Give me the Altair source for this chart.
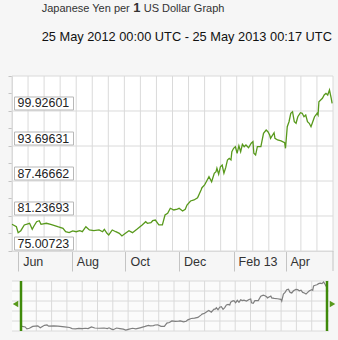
import altair as alt
import pandas as pd

# ---------------- data ----------------
dates = [
    "2012-05-25", "2012-05-30", "2012-06-01", "2012-06-04", "2012-06-08", "2012-06-14",
    "2012-06-17", "2012-06-19", "2012-06-22", "2012-06-25", "2012-06-27", "2012-07-03",
    "2012-07-08", "2012-07-16", "2012-07-22", "2012-07-25", "2012-07-29", "2012-08-02",
    "2012-08-06", "2012-08-10", "2012-08-13", "2012-08-17", "2012-08-21", "2012-08-26",
    "2012-09-01", "2012-09-05", "2012-09-07", "2012-09-10", "2012-09-12", "2012-09-16",
    "2012-09-20", "2012-09-24", "2012-09-27", "2012-10-01", "2012-10-05", "2012-10-09",
    "2012-10-14", "2012-10-20", "2012-10-24", "2012-10-26", "2012-10-30", "2012-11-01",
    "2012-11-04", "2012-11-08", "2012-11-12", "2012-11-15", "2012-11-18", "2012-11-21",
    "2012-11-25", "2012-11-29", "2012-12-01", "2012-12-05", "2012-12-08", "2012-12-10",
    "2012-12-14", "2012-12-18", "2012-12-22", "2012-12-26", "2012-12-27", "2012-12-30",
    "2013-01-02", "2013-01-04", "2013-01-07", "2013-01-10", "2013-01-12", "2013-01-13",
    "2013-01-15", "2013-01-17", "2013-01-19", "2013-01-21", "2013-01-23", "2013-01-25",
    "2013-01-27", "2013-01-29", "2013-01-30", "2013-02-01", "2013-02-03", "2013-02-05",
    "2013-02-07", "2013-02-09", "2013-02-11", "2013-02-13", "2013-02-15", "2013-02-18",
    "2013-02-21", "2013-02-23", "2013-02-24", "2013-02-26", "2013-02-28", "2013-03-04",
    "2013-03-07", "2013-03-10", "2013-03-12", "2013-03-14", "2013-03-15", "2013-03-19",
    "2013-03-20", "2013-03-23", "2013-03-27", "2013-03-31", "2013-04-01", "2013-04-03",
    "2013-04-05", "2013-04-07", "2013-04-09", "2013-04-11", "2013-04-13", "2013-04-15",
    "2013-04-18", "2013-04-20", "2013-04-22", "2013-04-24", "2013-04-26", "2013-04-28",
    "2013-04-30", "2013-05-02", "2013-05-04", "2013-05-07", "2013-05-08", "2013-05-09",
    "2013-05-11", "2013-05-13", "2013-05-15", "2013-05-17", "2013-05-19", "2013-05-21",
    "2013-05-23", "2013-05-24",
]
rates = [
    79.76, 79.33, 78.27, 78.62, 79.64, 79.94,
    78.87, 79.46, 80.22, 80.40, 79.76, 79.94,
    79.76, 79.33, 79.05, 78.44, 78.27, 78.57,
    78.44, 78.62, 78.44, 79.33, 78.75, 78.62,
    78.75, 78.44, 78.87, 78.16, 77.86, 78.75,
    78.44, 78.16, 77.68, 78.16, 78.62, 78.27,
    78.87, 79.64, 80.22, 79.94, 80.04, 80.40,
    80.52, 79.64, 79.64, 81.42, 81.72, 82.61,
    82.31, 82.48, 82.61, 82.13, 82.43, 83.19,
    83.91, 84.09, 84.49, 85.86, 86.27, 86.76,
    87.64, 88.23, 87.34, 88.84, 89.12, 89.73,
    88.66, 90.01, 90.31, 88.84, 89.84, 91.21,
    91.51, 91.21, 92.68, 93.29, 93.57, 92.40,
    93.75, 92.68, 94.00, 93.57, 93.88, 93.39,
    94.18, 94.46, 92.40, 92.09, 93.57, 93.57,
    95.96, 96.54, 96.24, 95.65, 95.07, 96.06,
    95.07, 94.77, 94.59, 94.28, 93.29, 97.13,
    98.02, 99.52, 99.80, 98.02, 97.74, 98.91,
    99.62, 99.52, 98.91, 99.21, 98.02, 97.74,
    97.13, 98.02, 98.91, 99.52, 99.21, 101.58,
    101.88, 102.19, 102.77, 103.07, 102.77, 103.66,
    102.19, 101.29,
]

y_label_values = [75.00723, 81.23693, 87.46662, 93.69631, 99.92601]
y_top_value = 106.15570
x_start = "2012-05-25T00:00:00"
x_end = "2013-05-25T00:17:00"
month_ticks = ["2012-06-01", "2012-08-01", "2012-10-01", "2012-12-01", "2013-02-01", "2013-04-01"]
grid_index = list(range(21))
nav_grid_index = list(range(6))

title_left = "Japanese Yen per"
title_bold = "1"
title_right = "US Dollar Graph"
subtitle = "25 May 2012 00:00 UTC - 25 May 2013 00:17 UTC"

# ---------------- styles ----------------
FONT = "Liberation Sans"
GRID = "#dadada"
TICK = "#c4c4c4"
GREEN = "#58991c"
HANDLE = "#3f8a0a"
BG = "#f6f6f6"
W, H = 321, 175
NW, NH = 317, 50
NAV_RANGE = [9, 315]


def dt(s):
    t = pd.Timestamp(s)
    return alt.DateTime(year=t.year, month=t.month, date=t.day,
                        hours=t.hour, minutes=t.minute)


df = pd.DataFrame({"date": pd.to_datetime(dates), "rate": rates})
x_domain = [dt(x_start), dt(x_end)]
all_levels = y_label_values + [y_top_value]
tick_values = all_levels + [(a + b) / 2 for a, b in zip(all_levels[:-1], all_levels[1:])]

yscale = alt.Scale(domain=[y_label_values[0], y_top_value], zero=False, nice=False)
y_axis = alt.Axis(values=tick_values, labels=False, ticks=True, tickSize=4,
                  tickColor=TICK, domain=True, domainColor=GRID, grid=False, title=None)

# ---------------- header ----------------
hdr = alt.Data(values=[{"k": 0}])
h1 = alt.Chart(hdr).mark_text(text=title_left, align="left", baseline="alphabetic",
                              fontSize=11, font=FONT, color="#333333").encode(
    x=alt.value(29.7), y=alt.value(11.5))
h2 = alt.Chart(hdr).mark_text(text=title_bold, align="left", baseline="alphabetic",
                              fontSize=13, fontWeight="bold", font=FONT, color="#333333").encode(
    x=alt.value(121.2), y=alt.value(11.5))
h3 = alt.Chart(hdr).mark_text(text=title_right, align="left", baseline="alphabetic",
                              fontSize=11, font=FONT, color="#333333").encode(
    x=alt.value(131.7), y=alt.value(11.5))
h4 = alt.Chart(hdr).mark_text(text=subtitle, align="left", baseline="alphabetic",
                              fontSize=12.8, font=FONT, color="#111111").encode(
    x=alt.value(29.7), y=alt.value(41))
header = alt.layer(h1, h2, h3, h4).properties(width=W, height=46)

# ---------------- main chart ----------------
vgrid = alt.Chart(pd.DataFrame({"i": grid_index})).mark_rule(color=GRID, strokeWidth=1).encode(
    x=alt.X("i:Q", scale=alt.Scale(domain=[0, 20], nice=False, zero=False), axis=None))
hgrid = alt.Chart(pd.DataFrame({"v": all_levels})).mark_rule(color=GRID, strokeWidth=1).encode(
    y=alt.Y("v:Q", scale=yscale, axis=y_axis))
labels_df = pd.DataFrame({"v": y_label_values})
boxes = alt.Chart(labels_df).mark_rect(fill="white", stroke="#b8b8b8", strokeWidth=1,
                                       yOffset=-14, y2Offset=-1).encode(
    y=alt.Y("v:Q", scale=yscale, axis=y_axis), y2="v:Q",
    x=alt.value(2.5), x2=alt.value(61.5))
texts = alt.Chart(labels_df).mark_text(align="left", baseline="middle", dy=-7.5,
                                       fontSize=12.4, font=FONT, color="#222222").encode(
    y=alt.Y("v:Q", scale=yscale, axis=y_axis),
    text=alt.Text("v:Q", format=".5f"), x=alt.value(5.5))
line = alt.Chart(df).mark_line(color=GREEN, strokeWidth=1.3).encode(
    x=alt.X("date:T", scale=alt.Scale(domain=x_domain),
            axis=alt.Axis(values=[dt(m) for m in month_ticks],
                          labelExpr="timeFormat(datum.value, month(datum.value) == 1 ? '%b %y' : '%b')",
                          tickSize=20, tickColor=TICK, domain=True, domainColor=GRID,
                          grid=False, labelAlign="left", labelOffset=4.5, labelPadding=-10,
                          labelBaseline="middle", labelFontSize=12.5, labelFont=FONT,
                          labelColor="#333333", title=None)),
    y=alt.Y("rate:Q", scale=yscale, axis=y_axis))
endsep = alt.Chart(pd.DataFrame({"date": pd.to_datetime([x_end])})).mark_rule(color=TICK).encode(
    x=alt.X("date:T", scale=alt.Scale(domain=x_domain), axis=None),
    y=alt.value(H), y2=alt.value(H + 20))
main = alt.layer(vgrid, hgrid, boxes, texts, line, endsep).resolve_scale(
    x="independent").properties(width=W, height=H,
                                view=alt.ViewBackground(fill="white", strokeWidth=0))

# ---------------- navigator ----------------
nvgrid = alt.Chart(pd.DataFrame({"i": grid_index})).mark_rule(color=GRID).encode(
    x=alt.X("i:Q", scale=alt.Scale(domain=[0, 20], range=NAV_RANGE, nice=False, zero=False), axis=None))
nhgrid = alt.Chart(pd.DataFrame({"j": nav_grid_index})).mark_rule(color=GRID).encode(
    y=alt.Y("j:Q", scale=alt.Scale(domain=[0, 5], nice=False, zero=False), axis=None))
nscale = alt.Scale(domain=x_domain, range=NAV_RANGE)
nline = alt.Chart(df).mark_line(color="#7f7f7f", strokeWidth=1.2).encode(
    x=alt.X("date:T", scale=nscale, axis=None),
    y=alt.Y("rate:Q", scale=alt.Scale(zero=False, nice=False, padding=1), axis=None))
ends_df = pd.DataFrame({"date": pd.to_datetime([x_start, x_end])})
handles = alt.Chart(ends_df).mark_rule(color=HANDLE, strokeWidth=2.5).encode(
    x=alt.X("date:T", scale=nscale, axis=None))
tri_l = alt.Chart(ends_df.iloc[:1]).mark_point(shape="triangle-left", filled=True, size=40,
                                               color=GREEN, opacity=1, xOffset=-5.5).encode(
    x=alt.X("date:T", scale=nscale, axis=None), y=alt.value(23))
tri_r = alt.Chart(ends_df.iloc[1:]).mark_point(shape="triangle-right", filled=True, size=40,
                                               color=GREEN, opacity=1, xOffset=5.5).encode(
    x=alt.X("date:T", scale=nscale, axis=None), y=alt.value(23))
nav = alt.layer(nvgrid, nhgrid, nline, handles, tri_l, tri_r).resolve_scale(
    x="independent", y="independent").properties(
    width=NW, height=NH, view=alt.ViewBackground(fill="#fbfbfb", strokeWidth=0))

chart = alt.vconcat(header, main, nav, spacing=30, bounds="flush").properties(
    padding={"left": 7, "top": 0, "right": 2, "bottom": 9},
    background=BG).configure_view(strokeWidth=0)

chart.save("out.html", embed_options={"renderer": "svg", "actions": False})
